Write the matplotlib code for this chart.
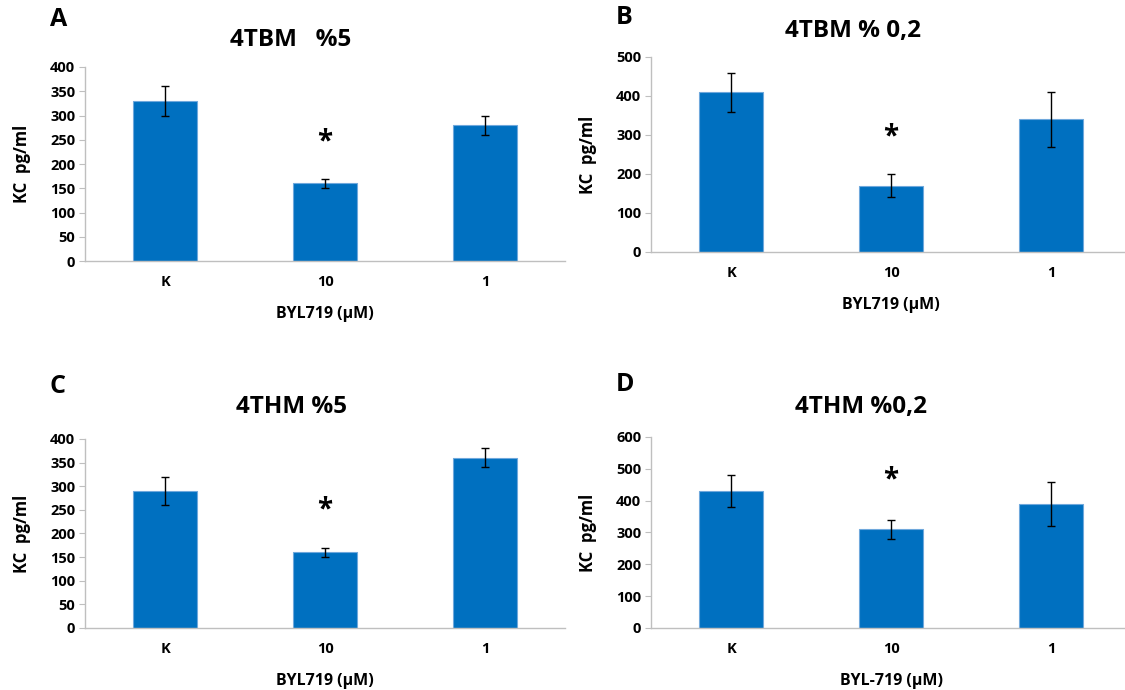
import matplotlib.pyplot as plt
import numpy as np

plt.rcParams['font.family'] = ['Open Sans', 'DejaVu Sans']
plt.rcParams['font.weight'] = 'bold'

# Data
groups = ['K', '10', '1']
titles = ['4TBM   %5', '4TBM % 0,2', '4THM %5', '4THM %0,2']
letters = ['A', 'B', 'C', 'D']
xlabels = ['BYL719 (µM)', 'BYL719 (µM)', 'BYL719 (µM)', 'BYL-719 (µM)']
means_a = [330, 160, 280]
errs_a = [30, 10, 20]
means_b = [410, 170, 340]
errs_b = [50, 30, 70]
means_c = [290, 160, 360]
errs_c = [30, 10, 20]
means_d = [430, 310, 390]
errs_d = [50, 30, 70]
ymax = [400, 500, 400, 600]
ystep = [50, 100, 50, 100]
star_y = [245, 295, 250, 465]

means = [means_a, means_b, means_c, means_d]
errs = [errs_a, errs_b, errs_c, errs_d]

fig = plt.figure(figsize=(11.25, 6.9), dpi=100)

# panel positions [left, bottom, width, height] in figure fractions
positions = [
    [0.0756, 0.6217, 0.4267, 0.2812],
    [0.5787, 0.6348, 0.4267, 0.2826],
    [0.0756, 0.0899, 0.4267, 0.2739],
    [0.5787, 0.0899, 0.4267, 0.2768],
]
letter_pos = [(0.044, 0.972), (0.547, 0.975), (0.044, 0.440), (0.547, 0.443)]
title_pos = [(0.258, 0.942), (0.758, 0.955), (0.259, 0.41), (0.765, 0.41)]

x = np.arange(len(groups))
for i in range(4):
    ax = fig.add_axes(positions[i])
    ax.bar(x, means[i], width=0.4, color='#0070C0', edgecolor='#6FA8DC',
           linewidth=0.8, zorder=2)
    ax.errorbar(x, means[i], yerr=errs[i], fmt='none', ecolor='black',
                elinewidth=1.0, capsize=3, capthick=1.0, zorder=3)
    ax.text(1, star_y[i], '*', ha='center', va='center', fontsize=20,
            fontweight='bold')
    ax.set_xlim(-0.5, 2.5)
    ax.set_ylim(0, ymax[i])
    ax.set_yticks(np.arange(0, ymax[i] + 1, ystep[i]))
    ax.set_xticks(x)
    ax.set_xticklabels(groups)
    ax.tick_params(axis='x', length=0, pad=10, labelsize=10.5)
    ax.tick_params(axis='y', length=4, color='#BFBFBF', labelsize=10.5, pad=3)
    for s in ['top', 'right']:
        ax.spines[s].set_visible(False)
    for s in ['left', 'bottom']:
        ax.spines[s].set_color('#BFBFBF')
        ax.spines[s].set_linewidth(1.0)
    ax.set_ylabel('KC  pg/ml', fontsize=12, fontweight='bold', labelpad=14)
    ax.set_xlabel(xlabels[i], fontsize=11.5, fontweight='bold', labelpad=12)
    fig.text(title_pos[i][0], title_pos[i][1], titles[i], ha='center',
             va='center', fontsize=17.5, fontweight='bold')
    fig.text(letter_pos[i][0], letter_pos[i][1], letters[i], ha='left',
             va='center', fontsize=18, fontweight='bold')

fig.savefig('out.png', dpi=100)
